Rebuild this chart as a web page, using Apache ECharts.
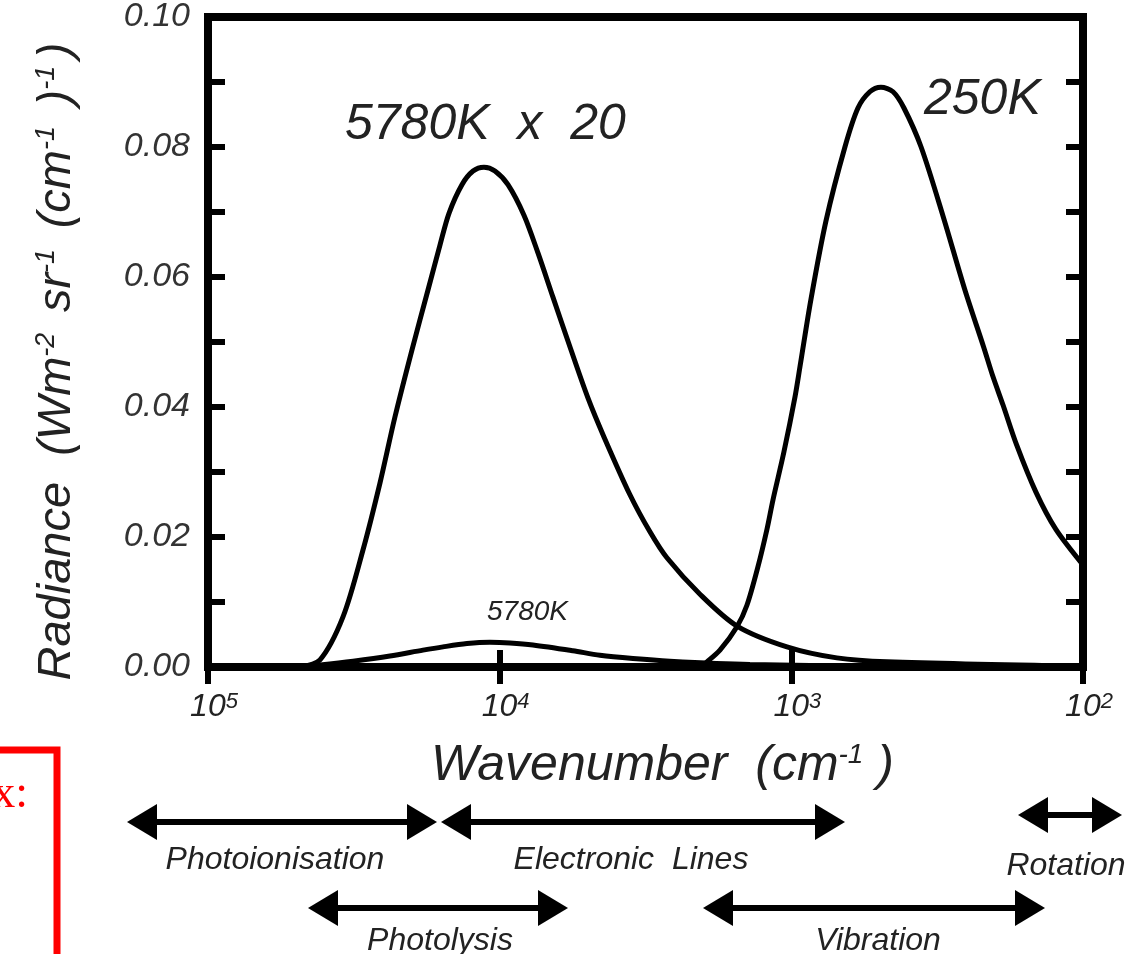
<!DOCTYPE html>
<html>
<head>
<meta charset="utf-8">
<title>Radiance vs Wavenumber</title>
<script src="https://cdn.jsdelivr.net/npm/echarts@6/dist/echarts.min.js"></script>
<style>
  html, body { margin: 0; padding: 0; background: #fff; }
  #chart { width: 1137px; height: 954px; }
</style>
</head>
<body>
<div id="chart"></div>
<script>
// data (wavenumber in cm-1, radiance)
const wnSun20 = [48370, 41300, 34450, 29420, 25730, 22850, 19980, 17610, 16020, 14920, 13470, 12340, 11320, 10380, 9365, 8254, 7391, 6566, 5696, 4982, 4389, 3575, 3053, 2670, 2057, 1535, 1035, 698, 470, 100];
const sun20 = [0, 0.0011, 0.0077, 0.018, 0.0283, 0.0385, 0.0488, 0.058, 0.0649, 0.0698, 0.0742, 0.0763, 0.0769, 0.0763, 0.0742, 0.0695, 0.0637, 0.0569, 0.0488, 0.0414, 0.0354, 0.0265, 0.0208, 0.0168, 0.0112, 0.0063, 0.0031, 0.0014, 0.0008, 0.0001];

const wnSun = [48370, 41300, 31800, 23780, 18320, 15640, 12950, 10800, 9220, 7689, 5607, 4531, 3491, 2608, 1387, 424, 100];
const sun = [0, 0.0003, 0.0009, 0.0017, 0.0026, 0.0031, 0.0036, 0.0038, 0.0037, 0.0034, 0.0025, 0.0018, 0.0013, 0.0009, 0.0004, 0.0001, 0];

const wn250 = [2057, 1947, 1757, 1536, 1420, 1302, 1212, 1156, 1060, 972, 934, 857, 761, 655, 591, 538, 493, 448, 411, 359, 302, 254, 219, 204, 188, 169, 145, 124, 100];
const earth250 = [0, 0.0008, 0.0026, 0.0062, 0.0095, 0.0154, 0.0212, 0.0257, 0.0331, 0.0415, 0.0462, 0.0565, 0.0686, 0.08, 0.086, 0.0885, 0.0892, 0.0885, 0.086, 0.08, 0.0694, 0.058, 0.0492, 0.0448, 0.0403, 0.0342, 0.0269, 0.0212, 0.0157];

const curveLabels = ['5780K  x  20', '250K', '5780K'];
const bandNames = ['Photoionisation', 'Electronic  Lines', 'Rotation', 'Photolysis', 'Vibration'];

// layout of the annotation arrows under the axis (pixels)
const bandLayout = [
  { x1: 127, x2: 437, y: 822, tx: 275, ty: 860 },
  { x1: 441, x2: 845, y: 822, tx: 631, ty: 860 },
  { x1: 1018, x2: 1122, y: 815, tx: 1066, ty: 866 },
  { x1: 308, x2: 568, y: 908, tx: 440, ty: 941 },
  { x1: 703, x2: 1045, y: 908, tx: 878, ty: 941 }
];

const FONT = '"Liberation Sans", Arial, sans-serif';
const TXT = '#222';

function pairs(xs, ys) {
  return xs.map((x, i) => [x, ys[i]]);
}

function arrow(b, name) {
  const hl = 30, hw = 18;
  return [
    { type: 'line', shape: { x1: b.x1 + hl - 2, y1: b.y, x2: b.x2 - hl + 2, y2: b.y }, style: { stroke: '#000', lineWidth: 6 } },
    { type: 'polygon', shape: { points: [[b.x1, b.y], [b.x1 + hl, b.y - hw], [b.x1 + hl, b.y + hw]] }, style: { fill: '#000' } },
    { type: 'polygon', shape: { points: [[b.x2, b.y], [b.x2 - hl, b.y - hw], [b.x2 - hl, b.y + hw]] }, style: { fill: '#000' } },
    { type: 'text', x: b.tx, y: b.ty, style: { text: name, font: 'italic 32px ' + FONT, fill: TXT, textAlign: 'center', textVerticalAlign: 'middle' } }
  ];
}

let graphics = [];
bandLayout.forEach((b, i) => { graphics = graphics.concat(arrow(b, bandNames[i])); });

graphics.push(
  { type: 'text', x: 345, y: 125, style: { text: curveLabels[0], font: 'italic 50px ' + FONT, fill: TXT, textVerticalAlign: 'middle' } },
  { type: 'text', x: 924, y: 100, style: { text: curveLabels[1], font: 'italic 50px ' + FONT, fill: TXT, textVerticalAlign: 'middle' } },
  { type: 'text', x: 487, y: 612, style: { text: curveLabels[2], font: 'italic 28px ' + FONT, fill: TXT, textVerticalAlign: 'middle' } },
  // red box cut off at the left edge
  { type: 'rect', shape: { x: -10, y: 750, width: 67, height: 240 }, style: { fill: 'none', stroke: '#ff0000', lineWidth: 7 } },
  { type: 'text', x: 28, y: 795, style: { text: 'x:', font: '46px "Liberation Serif", "Times New Roman", serif', fill: '#ff0000', textAlign: 'right', textVerticalAlign: 'middle' } }
);

const tickStyle = { inside: true, length: 17, lineStyle: { color: '#000', width: 6 } };

const chart = echarts.init(document.getElementById('chart'));

chart.setOption({
  animation: false,
  grid: { left: 208, right: 54, top: 17, bottom: 287, show: true, borderColor: '#000', borderWidth: 8 },
  xAxis: [
    {
      type: 'log', logBase: 10, min: 100, max: 100000, inverse: true, position: 'bottom',
      axisLine: { show: false },
      axisTick: tickStyle,
      splitLine: { show: false },
      axisLabel: {
        margin: 24,
        padding: [0, 0, 0, 12],
        formatter: v => '{b|10}{s|' + Math.round(Math.log10(v)) + '}',
        rich: {
          b: { fontSize: 32, fontStyle: 'italic', fontFamily: FONT, color: TXT, verticalAlign: 'bottom' },
          s: { fontSize: 22, fontStyle: 'italic', fontFamily: FONT, color: TXT, verticalAlign: 'top' }
        }
      },
      name: '{t|Wavenumber  (cm}{s|-1}{t| )}',
      nameLocation: 'middle',
      nameGap: 74,
      nameTextStyle: {
        padding: [0, 0, 0, 34],
        rich: {
          t: { fontSize: 50, fontStyle: 'italic', fontFamily: FONT, color: TXT, verticalAlign: 'bottom' },
          s: { fontSize: 28, fontStyle: 'italic', fontFamily: FONT, color: TXT, verticalAlign: 'top' }
        }
      }
    },
    {
      type: 'log', logBase: 10, min: 100, max: 100000, inverse: true, position: 'top',
      axisLine: { show: false }, axisTick: tickStyle, axisLabel: { show: false }, splitLine: { show: false }
    }
  ],
  yAxis: [
    {
      type: 'value', min: 0, max: 0.1, interval: 0.01, position: 'left',
      axisLine: { show: false },
      axisTick: tickStyle,
      splitLine: { show: false },
      axisLabel: {
        margin: 18,
        fontSize: 34, fontStyle: 'italic', fontFamily: FONT, color: '#333',
        formatter: v => (Math.round(v * 100) % 2 === 0 ? v.toFixed(2) : '')
      },
      name: '{t|Radiance  (Wm}{s|-2 }{t| sr}{s|-1 }{t| (cm}{s|-1 }{t| )}{s|-1 }{t|)   }',
      nameLocation: 'middle',
      nameGap: 128,
      nameTextStyle: {
        rich: {
          t: { fontSize: 47, fontStyle: 'italic', fontFamily: FONT, color: TXT, verticalAlign: 'bottom' },
          s: { fontSize: 27, fontStyle: 'italic', fontFamily: FONT, color: TXT, verticalAlign: 'top' }
        }
      }
    },
    {
      type: 'value', min: 0, max: 0.1, interval: 0.01, position: 'right',
      axisLine: { show: false }, axisTick: tickStyle, axisLabel: { show: false }, splitLine: { show: false }
    }
  ],
  series: [
    { name: '5780K x 20', type: 'line', data: pairs(wnSun20, sun20) },
    { name: '250K', type: 'line', data: pairs(wn250, earth250) },
    { name: '5780K', type: 'line', data: pairs(wnSun, sun) }
  ].map(s => Object.assign(s, {
    xAxisIndex: 0, yAxisIndex: 0, showSymbol: false, smooth: 0.3, clip: true,
    lineStyle: { color: '#000', width: 5 }
  })),
  graphic: graphics
});
</script>
</body>
</html>
